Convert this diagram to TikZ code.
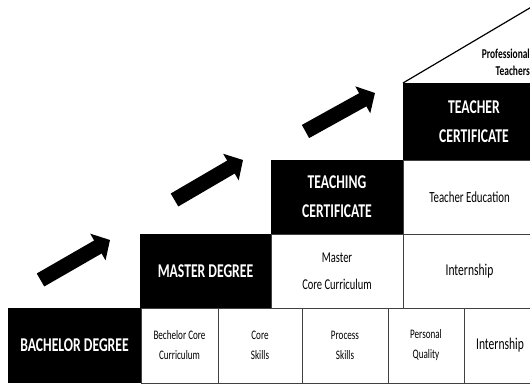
\documentclass[tikz,border=0pt]{standalone}
\usepackage{graphicx}
\usepackage{fontspec}
\setmainfont{Carlito}
\usetikzlibrary{arrows.meta}
\newcommand{\squeeze}[1]{\scalebox{0.7}[1]{#1}}

\begin{document}
\begin{tikzpicture}[x=1pt, y=1pt,
		box/.style = {anchor = south west, inner sep = 0pt, outer sep = 0pt, align = center},
		blackbox/.style = {box, fill = black, text = white, font = \bfseries\fontsize{19.5}{29}\selectfont},
		cell/.style = {box, draw = black!75, line width = 0.8pt, fill = white},
		bigarrow/.style = {line width = 15pt, -{Triangle[length = 14pt, width = 30pt]}}]
		\useasboundingbox (0,0) rectangle (530,383);
		\clip (0,0) rectangle (530,383);
		% bottom row
		\node[cell, minimum width = 77, minimum height = 75, font = \fontsize{13}{20}\selectfont] (bcc) at (141,0) {\squeeze{Bechelor Core}\\\squeeze{Curriculum}};
		\node[cell, minimum width = 84, minimum height = 75, font = \fontsize{13}{20}\selectfont] (cs) at (218,0) {\squeeze{Core}\\\squeeze{Skills}};
		\node[cell, minimum width = 86, minimum height = 75, font = \fontsize{13}{20}\selectfont] (ps) at (302,0) {\squeeze{Process}\\\squeeze{Skills}};
		\node[cell, minimum width = 76, minimum height = 75, font = \fontsize{13}{20}\selectfont] (pq) at (388,0) {\squeeze{Personal}\\\squeeze{Quality}};
		\node[cell, minimum width = 72, minimum height = 75, font = \fontsize{16.5}{20}\selectfont] (intb) at (464,0) {\squeeze{Internship}};
		\node[blackbox, minimum width = 133, minimum height = 75] (bach) at (8,0) {\squeeze{BACHELOR DEGREE}};
		% master row
		\node[cell, minimum width = 132, minimum height = 74, font = \fontsize{15}{27}\selectfont] (mcc) at (271,75) {\squeeze{Master}\\\squeeze{Core Curriculum}};
		\node[cell, minimum width = 133, minimum height = 74, font = \fontsize{16.5}{20}\selectfont] (intm) at (403,75) {\squeeze{Internship}};
		\node[blackbox, minimum width = 131, minimum height = 74] (mas) at (140,75) {\squeeze{MASTER DEGREE}};
		% teaching row
		\node[cell, minimum width = 133, minimum height = 74, font = \fontsize{15.5}{20}\selectfont] (ted) at (403,149) {\squeeze{Teacher Education}};
		\node[blackbox, minimum width = 132, minimum height = 74] (tc) at (271,149) {\squeeze{TEACHING}\\\squeeze{CERTIFICATE}};
		% top
		\node[blackbox, minimum width = 142, minimum height = 77] (tcert) at (403,223) {\squeeze{TEACHER}\\\squeeze{CERTIFICATE}};
		\coordinate (apex) at (545,384);
		\draw[line width = 1.2pt] (tcert.north west) -- (apex);
		\node[anchor = east, align = right, inner sep = 0pt, font = \bfseries\fontsize{13.5}{17}\selectfont] (prof) at (530,320.5) {\squeeze{Professional}\\\squeeze{Teachers}};
		% arrows
		\coordinate (a1s) at (40.5,103);
		\coordinate (a1e) at (110,143);
		\coordinate (a2s) at (174.5,183);
		\coordinate (a2e) at (243,223);
		\coordinate (a3s) at (305.5,251.5);
		\coordinate (a3e) at (375,290);
		\draw[bigarrow] (a1s) -- (a1e);
		\draw[bigarrow] (a2s) -- (a2e);
		\draw[bigarrow] (a3s) -- (a3e);
\end{tikzpicture}
\end{document}
